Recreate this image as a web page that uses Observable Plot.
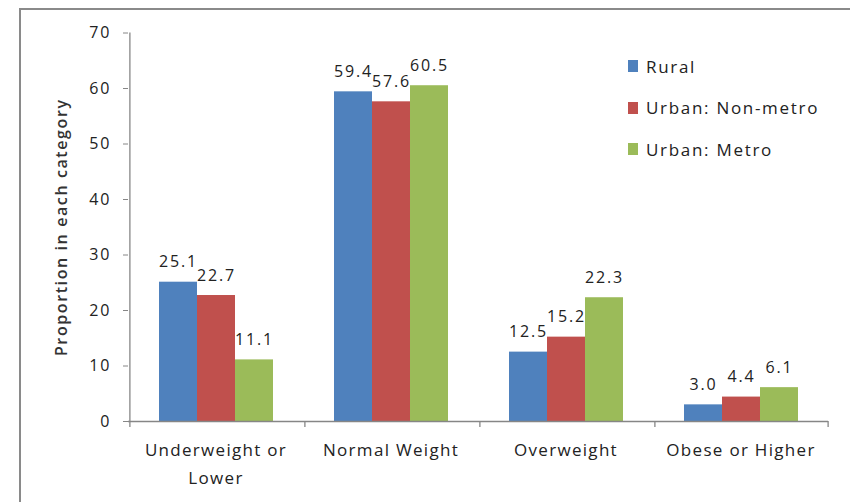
<!DOCTYPE html>
<html>
<head>
<meta charset="utf-8">
<script src="https://cdn.jsdelivr.net/npm/d3@7"></script>
<script src="https://cdn.jsdelivr.net/npm/@observablehq/plot@0.6"></script>
<style>
  html, body { margin: 0; padding: 0; background: #fff; }
  #wrap { position: relative; width: 850px; height: 502px; overflow: hidden; font-family: "Open Sans", sans-serif; color: #222; }
  #box { position: absolute; left: 19px; top: 8px; width: 900px; height: 600px; border-top: 2px solid #8a8a8a; border-left: 2px solid #8a8a8a; box-sizing: border-box; }
  #chart { position: absolute; left: 0; top: 0; }
  #chart g[aria-label="y-axis label"] text { font-weight: 600; font-size: 16px; letter-spacing: 1.6px; fill: #333; }
  #chart g[aria-label="y-axis tick label"] text { letter-spacing: 2px; }
  #chart g[aria-label="fx-axis tick label"] text { letter-spacing: 1.3px; }
  #chart g[aria-label="text"] text { letter-spacing: 1.8px; }
  #legend { position: absolute; left: 628px; top: 0; }
  .row { position: absolute; left: 0; display: flex; align-items: center; white-space: nowrap; font-size: 17px; letter-spacing: 1.7px; height: 20px; }
  .sw { width: 10px; height: 12px; margin-right: 8px; }
</style>
</head>
<body>
<div id="wrap">
  <div id="box"></div>
  <div id="chart"></div>
  <div id="legend"></div>
</div>
<script>
// BMI categories and the share (%) of each population group in them
const categories = ["Underweight or Lower", "Normal Weight", "Overweight", "Obese or Higher"];
const tickLabels = ["Underweight or\nLower", "Normal Weight", "Overweight", "Obese or Higher"];
const series = ["Rural", "Urban: Non-metro", "Urban: Metro"];
const rural = [25.1, 59.4, 12.5, 3.0];
const nonMetro = [22.7, 57.6, 15.2, 4.4];
const metro = [11.1, 60.5, 22.3, 6.1];
const yTicks = [0, 10, 20, 30, 40, 50, 60, 70];
const colors = ["#4F81BD", "#C0504D", "#9BBB59"];

const seriesValues = [rural, nonMetro, metro];
const rows = categories.flatMap((category, i) =>
  series.map((s, j) => ({category, series: s, value: seriesValues[j][i]}))
);

const W = 850, H = 502;
const ml = 128, mr = 22, mt = 32.5, mb = 81;
const po = 0.75; // outer padding of the bar group inside each category, in bar widths
const facetW = (W - ml - mr) / categories.length;
const step = facetW / (series.length + 2 * po);
const edge = step * (po + 0.5); // from the centre of an outer bar to the category boundary
const axisGray = "#868686";

const chart = Plot.plot({
  width: W,
  height: H,
  marginLeft: ml,
  marginRight: mr,
  marginTop: mt,
  marginBottom: mb,
  style: {fontFamily: "Open Sans, sans-serif", fontSize: "17px", color: "#222", background: "transparent", overflow: "visible"},
  fx: {domain: categories, padding: 0},
  x: {domain: series, paddingInner: 0, paddingOuter: po, axis: null},
  y: {domain: [0, 70]},
  color: {domain: series, range: colors},
  marks: [
    Plot.barY(rows, {fx: "category", x: "series", y: "value", fill: "series"}),
    Plot.text(rows, {fx: "category", x: "series", y: "value", text: d => d.value.toFixed(1),
      lineAnchor: "bottom", dy: -15, fontSize: 16, fill: "#222"}),
    // baseline and category separators
    Plot.ruleY([0], {stroke: axisGray, strokeWidth: 1.3}),
    Plot.ruleX(categories, {fx: d => d, x: () => series[0], y1: 0, y2: -1.1, dx: -edge, stroke: axisGray, strokeWidth: 1.3}),
    Plot.ruleX([categories[categories.length - 1]], {fx: d => d, x: () => series[series.length - 1], y1: 0, y2: -1.1, dx: edge, stroke: axisGray, strokeWidth: 1.3}),
    // value axis line
    Plot.ruleX([categories[0]], {fx: d => d, x: () => series[0], y1: 0, y2: 70, dx: -edge, stroke: axisGray, strokeWidth: 1.3}),
    Plot.axisY({ticks: yTicks, tickSize: 5, tickPadding: 12, stroke: axisGray, fill: "#222", fontSize: 16,
      label: "Proportion in each category", labelAnchor: "center", labelArrow: "none", labelOffset: 73}),
    Plot.axisFx({anchor: "bottom", tickSize: 0, tickPadding: 15, fontSize: 17, lineHeight: 1.65, fill: "#222",
      tickFormat: d => tickLabels[categories.indexOf(d)], label: null})
  ]
});
document.getElementById("chart").append(chart);

// legend, top right inside the plot area
const legend = document.getElementById("legend");
series.forEach((s, i) => {
  const row = document.createElement("div");
  row.className = "row";
  row.style.top = (56 + i * 41.5) + "px";
  const sw = document.createElement("div");
  sw.className = "sw";
  sw.style.background = colors[i];
  const label = document.createElement("span");
  label.textContent = s;
  row.append(sw, label);
  legend.append(row);
});
</script>
</body>
</html>
